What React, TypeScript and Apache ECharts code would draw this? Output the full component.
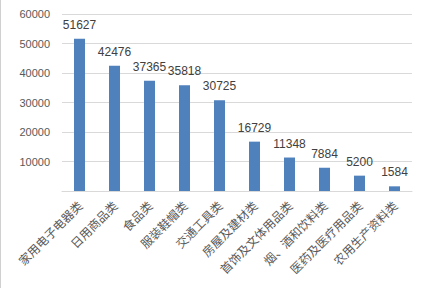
import React, { useEffect, useRef } from "react";
import * as echarts from "echarts";

const categories = [
  "家用电子电器类",
  "日用商品类",
  "食品类",
  "服装鞋帽类",
  "交通工具类",
  "房屋及建材类",
  "首饰及文体用品类",
  "烟、酒和饮料类",
  "医药及医疗用品类",
  "农用生产资料类",
];
const values = [51627, 42476, 37365, 35818, 30725, 16729, 11348, 7884, 5200, 1584];
const yTicks = { min: 0, max: 60000, interval: 10000 };

export default function App() {
  const ref = useRef<HTMLDivElement>(null);
  useEffect(() => {
    if (!ref.current) return;
    const chart = echarts.init(ref.current, undefined, { renderer: "svg" });
    chart.setOption({
      animation: false,
      backgroundColor: "#ffffff",
      grid: { left: 62, right: 11, top: 14, bottom: 97, containLabel: false },
      graphic: [
        {
          type: "line",
          shape: { x1: 0.5, y1: 0, x2: 0.5, y2: 288 },
          style: { stroke: "#d0d0d0", lineWidth: 1 },
        },
      ],
      xAxis: {
        type: "category",
        data: categories,
        axisLine: { lineStyle: { color: "#d9d9d9" } },
        axisTick: { show: false },
        axisLabel: {
          rotate: 45,
          interval: 0,
          margin: 12,
          color: "#595959",
          fontSize: 12,
          fontFamily: "Noto Sans CJK SC",
        },
      },
      yAxis: {
        type: "value",
        min: yTicks.min,
        max: yTicks.max,
        interval: yTicks.interval,
        axisLine: { show: false },
        axisTick: { show: false },
        splitLine: { lineStyle: { color: "#d9d9d9" } },
        axisLabel: {
          color: "#595959",
          fontSize: 11,
          margin: 12,
          fontFamily: "Liberation Sans",
          formatter: (v: number) => (v === 0 ? "" : String(v)),
        },
      },
      series: [
        {
          type: "bar",
          data: values,
          barWidth: 11,
          itemStyle: { color: "#4f81bd" },
          label: {
            show: true,
            position: "top",
            distance: 8,
            color: "#404040",
            fontSize: 12,
            fontFamily: "Liberation Sans",
          },
        },
      ],
    });
    return () => chart.dispose();
  }, []);
  return <div ref={ref} style={{ width: 423, height: 288, position: "absolute", left: 0, top: 0 }} />;
}
